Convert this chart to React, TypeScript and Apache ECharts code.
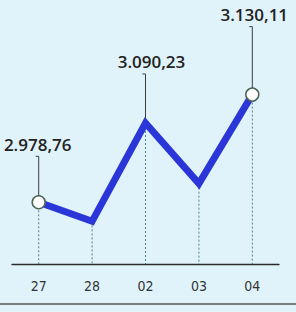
import React, { useEffect, useRef } from "react";
import * as echarts from "echarts";

const categories = ["27", "28", "02", "03", "04"];
const values = [2978.76, 2952, 3090.23, 3005, 3130.11];
const labeled = [true, false, true, false, true];
const markers = [true, false, false, false, true];
// visual lift of the callout text above each labeled point (px) and small x nudge
const labelLift = [58, 0, 61, 0, 80];
const labelDx = [-1, 0, 6, 0, 2];

function fmt(v: number): string {
  const [i, d] = v.toFixed(2).split(".");
  return i.replace(/\B(?=(\d{3})+(?!\d))/g, ".") + "," + d;
}

export default function App() {
  const ref = useRef<HTMLDivElement>(null);
  useEffect(() => {
    if (!ref.current) return;
    const chart = echarts.init(ref.current, undefined, { renderer: "svg" });
    const yMin = 2892;
    const yMax = 3235;
    chart.setOption({
      animation: false,
      backgroundColor: "#e0f3fa",
      grid: { left: 12, right: 17, top: 20, bottom: 48 },
      xAxis: {
        type: "category",
        data: categories,
        boundaryGap: true,
        axisLine: { lineStyle: { color: "#2a2a2a", width: 1.3 } },
        axisTick: { show: false },
        axisLabel: {
          color: "#333",
          fontFamily: "'Liberation Sans Narrow', 'DejaVu Sans Condensed', Roboto, sans-serif",
          fontSize: 14,
          margin: 15,
        },
      },
      yAxis: {
        type: "value",
        min: yMin,
        max: yMax,
        show: false,
        splitLine: { show: false },
      },
      graphic: [
        {
          type: "line",
          shape: { x1: 0, y1: 304, x2: 296, y2: 304 },
          style: { stroke: "#555", lineWidth: 1.5 },
        },
      ],
      series: [
        {
          type: "custom",
          z: 1,
          data: values.map((v, i) => [i, v]),
          renderItem: (params: any, api: any) => {
            const i = api.value(0);
            const p = api.coord([i, api.value(1)]);
            const b = api.coord([i, yMin]);
            return {
              type: "line",
              shape: { x1: p[0], y1: p[1], x2: b[0], y2: b[1] },
              style: { stroke: "#4f7f86", lineWidth: 1, lineDash: [2, 2] },
            };
          },
        },
        {
          type: "line",
          z: 3,
          data: values.map((v, i) =>
            markers[i]
              ? {
                  value: v,
                  symbol: "circle",
                  symbolSize: 13,
                  itemStyle: { color: "#ffffff", borderColor: "#4c6658", borderWidth: 1.5 },
                }
              : { value: v, symbol: "none" }
          ),
          lineStyle: { color: "#2b36d8", width: 7, join: "miter" },
          showSymbol: true,
        },
        {
          type: "custom",
          z: 4,
          data: values.map((v, i) => [i, v]).filter((_, i) => labeled[i]),
          renderItem: (params: any, api: any) => {
            const i = api.value(0);
            const v = api.value(1);
            const p = api.coord([i, v]);
            const lift = labelLift[i];
            const top = p[1] - lift + 12;
            const start = p[1] - (markers[i] ? 6.5 : 4);
            return {
              type: "group",
              children: [
                {
                  type: "polyline",
                  shape: {
                    points: [
                      [p[0] - 3, top],
                      [p[0], top],
                      [p[0], start],
                    ],
                  },
                  style: { stroke: "#3d3d3d", lineWidth: 1, fill: null },
                },
                {
                  type: "text",
                  style: {
                    text: fmt(v),
                    x: p[0] + labelDx[i],
                    y: p[1] - lift,
                    align: "center",
                    verticalAlign: "middle",
                    fontFamily: "Open Sans",
                    fontSize: 17,
                    fontWeight: 600,
                    fill: "#222",
                  },
                },
              ],
            };
          },
        },
      ],
    });
    return () => chart.dispose();
  }, []);
  return (
    <div
      ref={ref}
      style={{ position: "absolute", left: 0, top: 0, width: 296, height: 312 }}
    />
  );
}
